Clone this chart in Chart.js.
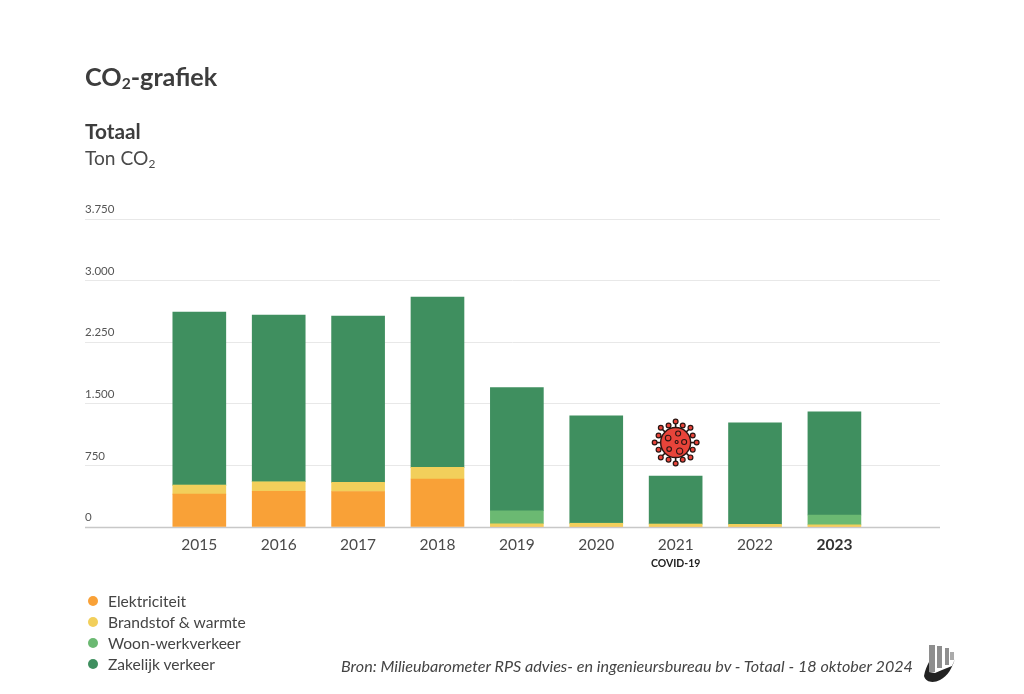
<!DOCTYPE html>
<html lang="nl"><head><meta charset="utf-8">
<script src="https://cdn.jsdelivr.net/npm/chart.js@4"></script>
<style>
html,body{margin:0;padding:0;background:#fff;width:1024px;height:694px;overflow:hidden}
body{position:relative;font-family:Lato,sans-serif;color:#3d3d3d}
canvas{position:absolute;left:0;top:0}
.t{position:absolute;white-space:nowrap;line-height:1}
.lg{position:absolute;left:88px;top:590.5px}
.lg div{position:absolute;left:20px;white-space:nowrap;font-size:15.6px;line-height:21px;color:#444}
.lg i{position:absolute;left:-20px;top:5.5px;width:10px;height:10px;border-radius:50%}
sub{font-size:62%;line-height:0;vertical-align:-0.22em}
</style></head><body>
<canvas id="c" width="1024" height="694"></canvas>
<div class="t" style="left:85px;top:64px;font-size:25.2px;font-weight:700;">CO<sub>2</sub>-grafiek</div>
<div class="t" style="left:85px;top:121px;font-size:20.8px;font-weight:700;">Totaal</div>
<div class="t" style="left:85px;top:148px;font-size:19.2px;color:#4a4a4a">Ton CO<sub>2</sub></div>
<div class="lg" id="lg"></div>
<div class="t" style="left:341px;top:658px;font-size:16.14px;font-style:italic;color:#444">Bron: Milieubarometer RPS advies- en ingenieursbureau bv - Totaal - 18 oktober 2024</div>
<svg style="position:absolute;left:922px;top:642px" width="36" height="42" viewBox="0 0 36 42">
<path d="M2 34 C3 28 5 24 7 20 L7 30 L13 31 L20 28 L30 24 L33 17 C30 26 26 34 18 38 C12 41 4 41 2 34 Z" fill="#222"/>
<rect x="7" y="3" width="6" height="27" fill="#8e8e8e"/><rect x="15" y="4" width="5" height="22" fill="#8e8e8e"/><rect x="23" y="6" width="4" height="17" fill="#8e8e8e"/><rect x="28" y="10" width="4" height="8" fill="#aaa"/>
</svg>
<script>
const years=[2015,2016,2017,2018,2019,2020,2021,2022,2023];
const elektriciteit=[400,435,432,584,0,0,0,0,0];
const brandstof=[110,116,112,143,40,45,36,32,25];
const woonwerk=[0,0,0,0,158,3,0,0,121];
const zakelijk=[2107,2029,2024,2072,1500,1307,584,1237,1257];
const seriesNames=['Elektriciteit','Brandstof & warmte','Woon-werkverkeer','Zakelijk verkeer'];
const seriesColors=['#F9A137','#F2CF5B','#6BB972','#3F8F5F'];
const yTicks=[0,750,1500,2250,3000,3750];
const highlightYear=2023, covidYear=2021, covidLabel='COVID-19', covidIconValue=1028;
const fmt=v=>String(v).replace(/\B(?=(\d{3})+$)/g,'.');
const toPts=a=>a.map((v,i)=>({x:years[i],y:v}));
const seriesData=[elektriciteit,brandstof,woonwerk,zakelijk];
const isHi=c=>c&&c.tick&&c.tick.value===highlightYear;

const lg=document.getElementById('lg');
seriesNames.forEach((n,i)=>{const d=document.createElement('div');d.style.top=(i*21)+'px';
 const m=document.createElement('i');m.style.background=seriesColors[i];d.appendChild(m);d.appendChild(document.createTextNode(n));lg.appendChild(d);});

const extras={id:'extras',
 beforeDatasetsDraw(ch){
  const {ctx,scales:{x,y}}=ch;
  ctx.save();ctx.strokeStyle='#c8c8c8';ctx.lineWidth=1.5;ctx.beginPath();
  const b=y.getPixelForValue(0)+0.5;ctx.moveTo(x.left,b);ctx.lineTo(x.right,b);ctx.stroke();ctx.restore();
 },
 afterDatasetsDraw(ch){
 const {ctx,scales:{x,y}}=ch;
 ctx.save();
 const cx=x.getPixelForValue(covidYear);
 ctx.fillStyle='#222';ctx.font='700 10.5px Lato';ctx.textAlign='center';ctx.textBaseline='middle';
 ctx.fillText(covidLabel,cx,y.getPixelForValue(0)+36.5);
 const cy=y.getPixelForValue(covidIconValue);
 ctx.translate(cx,cy);
 const ink='#2a1512',red='#E8443A';
 for(let k=0;k<16;k++){const a=k*Math.PI/8,long=k%2===0,r=long?21:18.5;
  ctx.strokeStyle=ink;ctx.lineWidth=1.6;ctx.beginPath();ctx.moveTo(Math.cos(a)*13,Math.sin(a)*13);ctx.lineTo(Math.cos(a)*r,Math.sin(a)*r);ctx.stroke();
  ctx.fillStyle=red;ctx.lineWidth=1.2;ctx.beginPath();ctx.arc(Math.cos(a)*r,Math.sin(a)*r,2.4,0,7);ctx.fill();ctx.stroke();}
 ctx.fillStyle=red;ctx.strokeStyle=ink;ctx.lineWidth=1.4;ctx.beginPath();ctx.arc(0,0,15,0,7);ctx.fill();ctx.stroke();
 [[-7.5,-4.5,2.8],[2.5,-9,2.5],[8.5,-0.5,2.5],[-6.5,6.5,2.3],[4,8.5,3.1],[1,-0.5,1.5]].forEach(([a,b,r])=>{ctx.lineWidth=1.1;ctx.beginPath();ctx.arc(a,b,r,0,7);ctx.stroke();});
 ctx.restore();
}};

new Chart(document.getElementById('c'),{
 type:'bar',
 data:{datasets:seriesNames.map((n,i)=>({label:n,data:toPts(seriesData[i]),backgroundColor:seriesColors[i],borderWidth:0,barThickness:53,stack:'s'}))},
 plugins:[extras],
 options:{
  responsive:false,animation:false,devicePixelRatio:1,
  layout:{padding:{left:85,right:84,top:219,bottom:107}},
  plugins:{legend:{display:false},tooltip:{enabled:false},title:{display:false}},
  scales:{
   x:{type:'linear',stacked:true,offset:false,min:2013.56,max:2024.33,
    afterBuildTicks(s){s.ticks=years.map(v=>({value:v}));},
    afterFit(s){s.height=60;},
    grid:{display:false},border:{display:false},
    ticks:{autoSkip:false,maxRotation:0,padding:0.5,color:c=>isHi(c)?'#333':'#4a4a4a',
     font:c=>({family:'Lato',size:15.5,weight:isHi(c)?'700':'400'}),
     callback:v=>String(v)}},
   y:{stacked:true,min:0,max:3750,
    afterBuildTicks(s){s.ticks=yTicks.map(v=>({value:v}));},
    afterFit(s){s.width=0;},
    grid:{color:c=>c.tick&&c.tick.value===0?'rgba(0,0,0,0)':'#e8e8e8',lineWidth:1,drawTicks:false},border:{display:false},
    ticks:{mirror:true,padding:0,labelOffset:-9.5,color:'#555',font:{family:'Lato',size:11.5},callback:v=>fmt(v)}}
  }}
});
</script></body></html>
